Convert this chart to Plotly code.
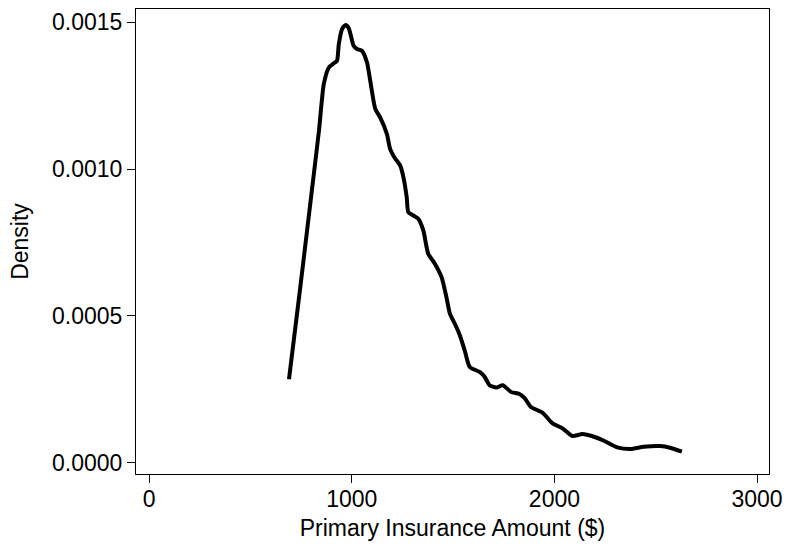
import plotly.graph_objects as go

pia = [690, 744, 797, 838, 862, 887, 911, 927, 936, 952, 969, 985, 1009, 1026, 1050,
       1075, 1091, 1116, 1140, 1173, 1189, 1214, 1239, 1255, 1271, 1279, 1304, 1328,
       1353, 1377, 1410, 1443, 1467, 1484, 1508, 1533, 1557, 1582, 1631, 1656, 1680,
       1713, 1745, 1786, 1827, 1853, 1884, 1942, 1991, 2040, 2089, 2138, 2195, 2244,
       2310, 2375, 2441, 2522, 2571, 2629]
density = [0.000284, 0.000587, 0.000893, 0.001131, 0.001290, 0.001346, 0.001360,
           0.001369, 0.001426, 0.001477, 0.001491, 0.001480, 0.001420, 0.001409,
           0.001403, 0.001363, 0.001301, 0.001205, 0.001176, 0.001120, 0.001069,
           0.001036, 0.001012, 0.000972, 0.000904, 0.000853, 0.000842, 0.000831,
           0.000791, 0.000712, 0.000678, 0.000632, 0.000564, 0.000508, 0.000474,
           0.000434, 0.000383, 0.000326, 0.000309, 0.000292, 0.000264, 0.000256,
           0.000264, 0.000241, 0.000234, 0.000220, 0.000190, 0.000170, 0.000134,
           0.000117, 0.0000908, 0.0000976, 0.0000884, 0.0000748, 0.0000523,
           0.0000466, 0.0000544, 0.0000568, 0.0000510, 0.0000374]

x_ticks = [0, 1000, 2000, 3000]
y_ticks = [0.0, 0.0005, 0.0010, 0.0015]

fig = go.Figure()
fig.add_trace(go.Scatter(x=pia, y=density, mode="lines",
                         line=dict(color="black", width=4, shape="spline", smoothing=0.6),
                         showlegend=False, hoverinfo="skip"))

font = dict(family="Liberation Sans, Arial, sans-serif", size=23, color="black")
fig.update_layout(
    width=791, height=554,
    margin=dict(l=136, r=18, t=8, b=80),
    paper_bgcolor="white", plot_bgcolor="white",
    font=font,
)
fig.update_xaxes(
    range=[-65, 3059], tickvals=x_ticks, ticktext=[str(v) for v in x_ticks],
    showgrid=False, zeroline=False, showline=True, linecolor="black", linewidth=1,
    mirror=True, ticks="outside", ticklen=8, tickwidth=1, tickcolor="black",
    ticklabelstandoff=-4,
    title=dict(text="Primary Insurance Amount ($)", font=font, standoff=9),
    tickfont=font,
)
fig.update_yaxes(
    range=[-0.0000384, 0.0015452], tickvals=y_ticks,
    ticktext=["%.4f" % v for v in y_ticks],
    showgrid=False, zeroline=False, showline=True, linecolor="black", linewidth=1,
    mirror=True, ticks="outside", ticklen=8, tickwidth=1, tickcolor="black",
    title=dict(text="Density", font=font, standoff=16),
    tickfont=font,
)
fig.write_html("out.html")
